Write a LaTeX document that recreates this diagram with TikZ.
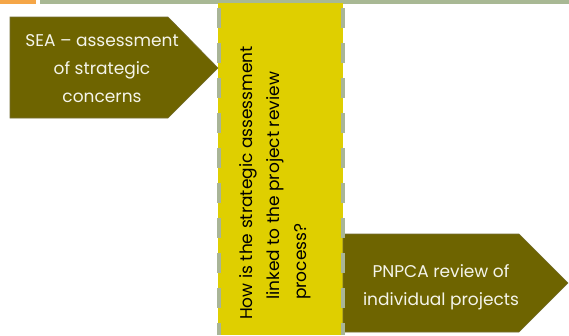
\documentclass[tikz,border=0pt]{standalone}
\usepackage{fontspec}
\setmainfont{Poppins}
\definecolor{olivebox}{HTML}{6E6400}
\definecolor{ybox}{HTML}{DFCF00}
\definecolor{bargreen}{HTML}{A8B894}
\definecolor{barorange}{HTML}{F5A648}
\definecolor{dashgray}{HTML}{A9B597}
\definecolor{ltext}{HTML}{F4F4EA}
\tikzset{
  arrowshape/.style={fill=olivebox, draw=olivebox!60!gray, line width=0.6pt},
  arrowtext/.style={text=ltext, align=center, font=\fontsize{17}{28}\selectfont, inner sep=0pt},
  qtext/.style={text=black, align=left, font=\fontsize{17}{27}\selectfont, inner sep=0pt, rotate=90},
  dashline/.style={draw=dashgray, line width=4.5pt, dash pattern=on 20pt off 15pt, dash phase=0pt},
}
\begin{document}
\begin{tikzpicture}[x=1pt,y=-1pt]
\useasboundingbox (0,0) rectangle (569,335);
% top bars
\path[fill=barorange] (0,0) -- (36,0) -- (36,4) -- (0,4) -- cycle;
\path[fill=bargreen] (40,0) -- (569,0) -- (569,4) -- (40,4) -- cycle;
% yellow column
\fill[ybox] (218,3) rectangle (343,335);
% arrows
\draw[arrowshape] (10,17) -- (168,17) -- (218,68) -- (168,118) -- (10,118) -- cycle;
\draw[arrowshape] (343,234) -- (519,234) -- (568,283) -- (519,332) -- (343,332) -- cycle;
% dashed edges
\coordinate (lt) at (219,8);
\coordinate (lb) at (219,335);
\coordinate (rt) at (343,8);
\coordinate (rb) at (343,335);
\draw[dashline] (lt) -- (lb);
\draw[dashline] (rt) -- (rb);
% texts
\node[arrowtext] (sea) at (102,69) {SEA -- assessment\\of strategic\\concerns};
\node[arrowtext] (pnpca) at (441,287) {PNPCA review of\\individual projects};
\node[qtext] (q) at (275,183) {How is the strategic assessment\\\hspace*{20pt}linked to the project review\\\hspace*{20pt}process?};
\end{tikzpicture}
\end{document}
